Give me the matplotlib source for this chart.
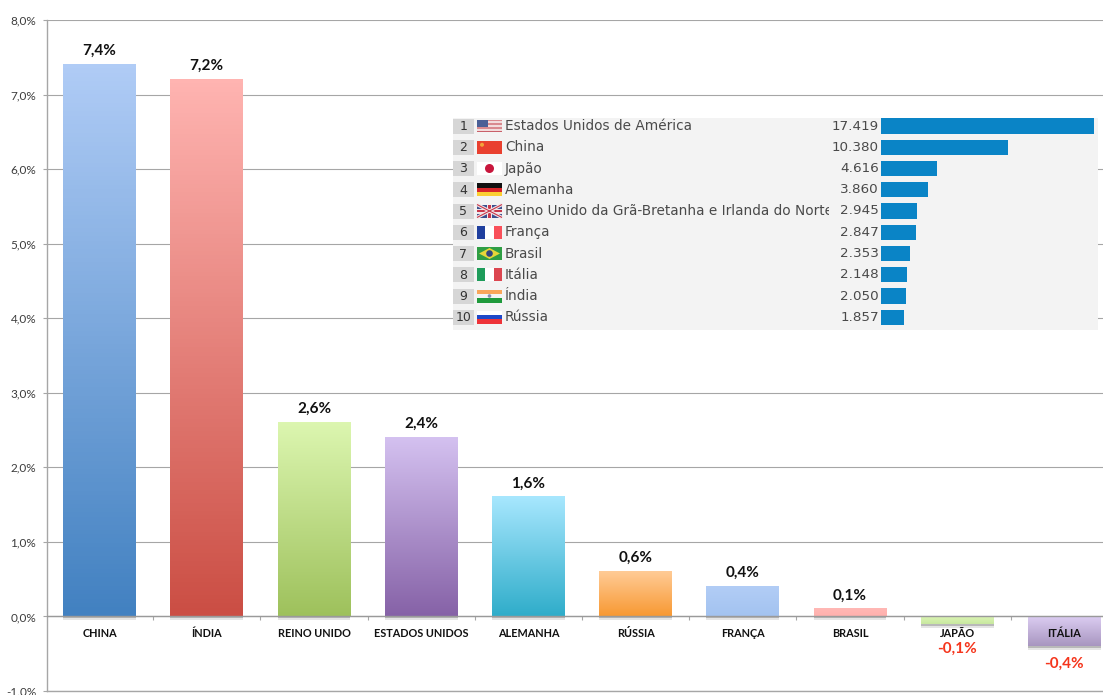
import matplotlib
matplotlib.use("Agg")
import matplotlib.pyplot as plt
import matplotlib.patheffects as pe
from matplotlib.colors import LinearSegmentedColormap
from matplotlib.patches import Rectangle, Polygon, Circle
import numpy as np

W, H = 1103, 695

countries = ["CHINA", "ÍNDIA", "REINO UNIDO", "ESTADOS UNIDOS", "ALEMANHA",
             "RÚSSIA", "FRANÇA", "BRASIL", "JAPÃO", "ITÁLIA"]
growth = [7.4, 7.2, 2.6, 2.4, 1.6, 0.6, 0.4, 0.1, -0.1, -0.4]
growth_labels = ["7,4%", "7,2%", "2,6%", "2,4%", "1,6%",
                 "0,6%", "0,4%", "0,1%", "-0,1%", "-0,4%"]
top_colors = ["#b0ccf6", "#ffb4b1", "#dcf6b0", "#d4c1f0", "#a8e7fe",
              "#ffcb96", "#b2cdf6", "#ffb8b5", "#dcf5b4", "#dccdf2"]
bottom_colors = ["#4281c1", "#cb4e44", "#9ec15c", "#8662a7", "#2fadca",
                 "#f89933", "#a3c3f0", "#ffb0ad", "#c8e8a0", "#a896c0"]

ytick_values = [-1, 0, 1, 2, 3, 4, 5, 6, 7, 8]
ytick_labels = ["-1.0%", "0,0%", "1,0%", "2,0%", "3,0%",
                "4,0%", "5,0%", "6,0%", "7,0%", "8,0%"]

rank_names = ["Estados Unidos de América", "China", "Japão", "Alemanha",
              "Reino Unido da Grã-Bretanha e Irlanda do Norte", "França",
              "Brasil", "Itália", "Índia", "Rússia"]
rank_values = [17.419, 10.380, 4.616, 3.860, 2.945,
               2.847, 2.353, 2.148, 2.050, 1.857]
rank_labels = ["17.419", "10.380", "4.616", "3.860", "2.945",
               "2.847", "2.353", "2.148", "2.050", "1.857"]
flag_keys = ["us", "cn", "jp", "de", "uk", "fr", "br", "it", "in", "ru"]


def stripes_h(ax, x, y, w, h, colors):
    """horizontal stripes flag"""
    n = len(colors)
    for i, c in enumerate(colors):
        ax.add_patch(Rectangle((x, y + i * h / n), w, h / n, color=c, lw=0))


def stripes_v(ax, x, y, w, h, colors):
    """vertical stripes flag"""
    n = len(colors)
    for i, c in enumerate(colors):
        ax.add_patch(Rectangle((x + i * w / n, y), w / n, h, color=c, lw=0))


def draw_flag(ax, key, x, y, w, h):
    """draws one small flag, pixel coords"""
    if key == "us":
        stripes_h(ax, x, y, w, h, ["#d98a8f", "#f2dcdc"] * 3 + ["#c9606a"])
        ax.add_patch(Rectangle((x, y), w * 0.42, h * 0.55,
                               color="#4a5f96", lw=0))
    elif key == "cn":
        ax.add_patch(Rectangle((x, y), w, h, color="#e9402f", lw=0))
        ax.add_patch(Circle((x + 5, y + 4), 2, color="#f3a33a", lw=0))
    elif key == "jp":
        ax.add_patch(Rectangle((x, y), w, h, color="#ffffff", lw=0))
        ax.add_patch(Circle((x + w / 2, y + h / 2), 4.5,
                            color="#c8163c", lw=0))
    elif key == "de":
        stripes_h(ax, x, y, w, h, ["#111111", "#d8262a", "#fbcf33"])
    elif key == "uk":
        ax.add_patch(Rectangle((x, y), w, h, color="#3b4f8e", lw=0))
        ax.plot([x, x + w], [y, y + h], color="#f0e6e8", lw=2.4,
                solid_capstyle="butt")
        ax.plot([x, x + w], [y + h, y], color="#f0e6e8", lw=2.4,
                solid_capstyle="butt")
        ax.plot([x, x + w], [y, y + h], color="#c9374a", lw=0.8,
                solid_capstyle="butt")
        ax.plot([x, x + w], [y + h, y], color="#c9374a", lw=0.8,
                solid_capstyle="butt")
        ax.add_patch(Rectangle((x, y + h / 2 - 2.5), w, 5,
                               color="#f0e6e8", lw=0))
        ax.add_patch(Rectangle((x + w / 2 - 2.5, y), 5, h,
                               color="#f0e6e8", lw=0))
        ax.add_patch(Rectangle((x, y + h / 2 - 1.3), w, 2.6,
                               color="#c9374a", lw=0))
        ax.add_patch(Rectangle((x + w / 2 - 1.3, y), 2.6, h,
                               color="#c9374a", lw=0))
    elif key == "fr":
        stripes_v(ax, x, y, w, h, ["#1f3f9e", "#ffffff", "#f9505a"])
    elif key == "br":
        ax.add_patch(Rectangle((x, y), w, h, color="#2f9e44", lw=0))
        ax.add_patch(Polygon([(x + 2, y + h / 2), (x + w / 2, y + 1),
                              (x + w - 2, y + h / 2), (x + w / 2, y + h - 1)],
                             color="#e6d63a", lw=0))
        ax.add_patch(Circle((x + w / 2, y + h / 2), 3.3,
                            color="#32457f", lw=0))
    elif key == "it":
        stripes_v(ax, x, y, w, h, ["#1e9c5a", "#ffffff", "#dc4650"])
    elif key == "in":
        stripes_h(ax, x, y, w, h, ["#f9a65a", "#f4f4f4", "#1f9a3c"])
        ax.add_patch(Circle((x + w / 2, y + h / 2), 1.8,
                            color="#8a8fb0", lw=0))
    elif key == "ru":
        stripes_h(ax, x, y, w, h, ["#ffffff", "#1f49c8", "#ee3338"])


def main() -> None:
    """main function"""
    fig = plt.figure(figsize=(W / 100, H / 100), dpi=100, facecolor="white")
    ax = fig.add_axes([46.5 / W, (H - 691) / H, (W - 46.5) / W, 671 / H])

    x = np.arange(len(countries))
    shadow = [pe.SimplePatchShadow(offset=(0, -2.6), shadow_rgbFace="#555555",
                                   alpha=0.15),
              pe.SimplePatchShadow(offset=(0, -1.3), shadow_rgbFace="#555555",
                                   alpha=0.3),
              pe.Normal()]
    bars = ax.bar(x, growth, width=0.68, color=bottom_colors, zorder=3,
                  path_effects=shadow)

    # gradient fill on top of each bar
    for bar, c1, c2 in zip(bars, top_colors, bottom_colors):
        cmap = LinearSegmentedColormap.from_list("g", [c1, c2])
        ax.imshow(np.linspace(0, 1, 128).reshape(-1, 1), cmap=cmap,
                  aspect="auto", zorder=4,
                  extent=(bar.get_x(), bar.get_x() + bar.get_width(),
                          min(bar.get_y(), bar.get_y() + bar.get_height()),
                          max(bar.get_y(), bar.get_y() + bar.get_height())))

    ax.set_xlim(-0.495, -0.495 + (W - 46.5) / 107.2)
    ax.set_ylim(-1, 8)
    ax.set_yticks(ytick_values)
    ax.set_yticklabels(ytick_labels, family="Lato", fontsize=8.5,
                       color="#3c3c3c")
    ax.set_xticks(x[:-1] + 0.5)
    ax.set_xticklabels([])
    ax.tick_params(axis="y", length=3, width=0.8, color="#a6a6a6", pad=4.5)
    ax.tick_params(axis="x", length=0)
    ax.grid(axis="y", color="#a6a6a6", lw=0.8, zorder=1)
    ax.set_axisbelow(True)
    for name in ["top", "right"]:
        ax.spines[name].set_visible(False)
    for name in ["left", "bottom"]:
        ax.spines[name].set_color("#a6a6a6")
        ax.spines[name].set_linewidth(1)

    # small ticks hanging from the zero line
    ax.vlines(x[:-1] + 0.5, -0.05, 0, color="#a6a6a6", lw=0.8, zorder=2)
    ax.axhline(0, color="#9a9a9a", lw=1, zorder=5)

    # the two negative labels sit at different distances from their bars
    neg_offset = {8: -18, 9: -12.5}
    for i, name in enumerate(countries):
        ax.text(i, -0.225, name, ha="center", va="center", family="Lato",
                weight="bold", fontsize=7.8, color="#111111", zorder=6)
        if growth[i] >= 0:
            ax.annotate(growth_labels[i], (i, growth[i]), xytext=(0, 4.7),
                        textcoords="offset points", ha="center", va="bottom",
                        family="Lato", weight="bold", fontsize=11,
                        color="#111111", zorder=6)
        else:
            ax.annotate(growth_labels[i], (i, growth[i]),
                        xytext=(0, neg_offset[i]),
                        textcoords="offset points", ha="center", va="center",
                        family="Lato", weight="bold", fontsize=11,
                        color="#f5351c", zorder=6)

    # ranking table pasted over the chart
    first_row, row_h = 126, 21.25
    tab = fig.add_axes([453 / W, (H - 330) / H, 645 / W, 212 / H], zorder=5)
    tab.set_xlim((453 - 881) / 12.23, (1098 - 881) / 12.23)
    tab.set_ylim((330 - first_row) / row_h, (118 - first_row) / row_h)
    tab.barh(range(10), rank_values, height=0.72, color="#0a84c6", zorder=2)
    tab.axis("off")
    tab.add_patch(Rectangle((0, 0), 1, 1, transform=tab.transAxes,
                            color="#f3f3f3", zorder=0, lw=0))

    # overlay in pixel coords for flags and text
    over = fig.add_axes([0, 0, 1, 1], zorder=6)
    over.set_xlim(0, W)
    over.set_ylim(H, 0)
    over.axis("off")
    clip = Rectangle((453, 118), 376, 212, transform=over.transData)
    for i in range(10):
        yc = first_row + row_h * i
        over.add_patch(Rectangle((453, yc - 7.5), 21, 15, color="#d6d6d6",
                                 lw=0))
        over.text(463.5, yc + 0.5, str(i + 1), ha="center", va="center",
                  fontsize=9, color="#333333")
        draw_flag(over, flag_keys[i], 477, yc - 6.5, 25, 13)
        t = over.text(505, yc, rank_names[i], ha="left", va="center",
                      fontsize=9.8, color="#4a4a4a", clip_on=True)
        t.set_clip_path(clip)
        over.text(879, yc, rank_labels[i], ha="right", va="center",
                  fontsize=9.7, color="#4a4a4a")

    fig.savefig("out.png", dpi=100)


if __name__ == "__main__":
    main()
